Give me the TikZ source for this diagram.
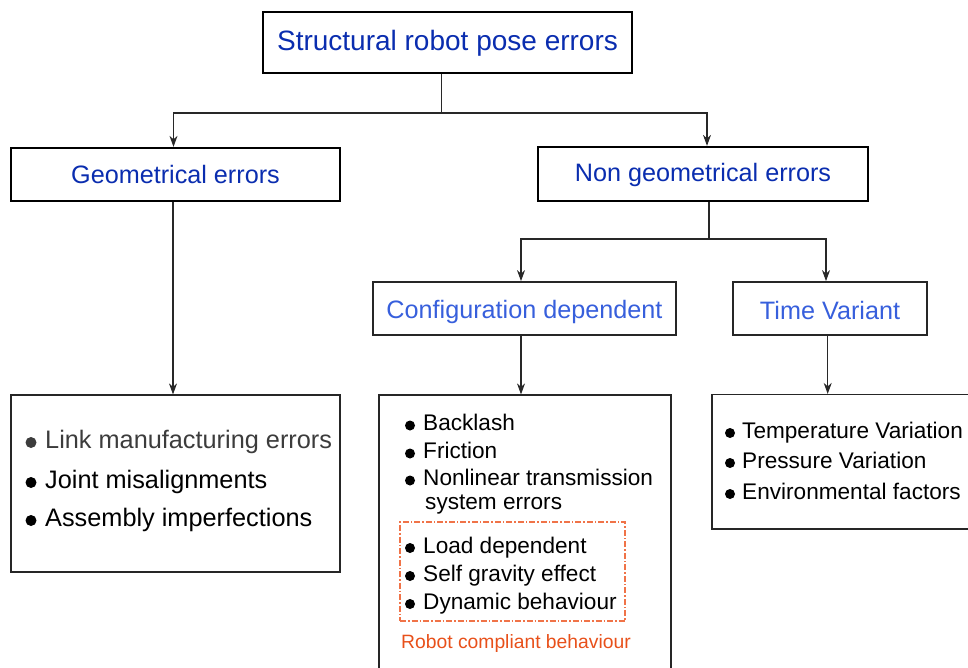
\documentclass[tikz,border=0pt]{standalone}
\usepackage{fontspec}
\setmainfont{Liberation Sans}
\usetikzlibrary{arrows.meta,calc}
\definecolor{tblue}{RGB}{10,45,175}
\definecolor{lblue}{RGB}{55,95,220}
\definecolor{oran}{RGB}{232,80,26}
\definecolor{dashor}{RGB}{240,115,72}
\definecolor{lnk}{RGB}{40,40,40}
\definecolor{greytxt}{RGB}{60,60,60}
\begin{document}
\begin{tikzpicture}[x=1pt,y=-1pt,
  hbox/.style={draw=black, line width=2.3pt, inner sep=0pt, text=tblue, text depth=0pt},
  mbox/.style={draw=black!85, line width=1.8pt, inner sep=0pt, text=lblue, text depth=0pt,
    font=\fontsize{25.2}{28}\selectfont},
  lbox/.style={draw=black!85, line width=1.2pt, inner sep=0pt},
  ln/.style={draw=lnk, line width=1.1pt},
  arr/.style={draw=lnk, line width=1.1pt, -{Stealth[length=11pt,width=8pt,inset=3.5pt]}},
  bul/.style={circle, fill=black, inner sep=0pt, minimum size=10pt},
  bigbul/.style={circle, fill=black, inner sep=0pt, minimum size=11pt},
  itm/.style={anchor=base west, inner sep=0pt}]
\useasboundingbox (0,0) rectangle (968,668);
\clip (0,0) rectangle (968,668);

% header boxes
\node[hbox, minimum width=369, minimum height=61, text height=17pt,
  font=\fontsize{28}{30}\selectfont] (top) at (447.5,42.5) {Structural robot pose errors};
\node[hbox, minimum width=329, minimum height=53, text height=19pt,
  font=\fontsize{25.2}{28}\selectfont] (geo) at (175.5,174.5) {Geometrical errors};
\node[hbox, minimum width=330, minimum height=54, text height=16pt,
  font=\fontsize{25.2}{28}\selectfont] (ng) at (703,174) {Non geometrical errors};
\node[mbox, minimum width=303, minimum height=53, text height=19pt] (cfg) at (524.5,308.5) {Configuration dependent};
\node[mbox, minimum width=194, minimum height=53, text height=21pt] (tv) at (830,308.5) {Time Variant};

% list boxes
\node[lbox, minimum width=329, minimum height=177] (gl) at (175.5,483.5) {};
\node[lbox, minimum width=292, minimum height=285] (cl) at (525,537.5) {};
\node[lbox, minimum width=278, minimum height=134.5] (tl) at (851,461.75) {};
\node[draw=dashor, line width=1.3pt, dash pattern=on 6pt off 2pt on 1.5pt off 2pt,
  minimum width=225, minimum height=99, inner sep=0pt] (rcb) at (512.5,571.5) {};

% connectors
\coordinate (j1) at (441.5,113);
\draw[ln] (top.south -| j1) -- (j1);
\draw[arr] (j1) -| ([xshift=-2]geo.north);
\draw[arr] (j1) -| ([xshift=4]ng.north);
\coordinate (j2) at (709,239);
\draw[ln] (ng.south -| j2) -- (j2);
\draw[arr] (j2) -| ([xshift=-3.5]cfg.north);
\draw[arr] (j2) -| ([xshift=-4]tv.north);
\draw[arr] ([xshift=-2.5]geo.south) -- ([xshift=-2.5]gl.north);
\draw[arr] ([xshift=-3.5]cfg.south) -- ([xshift=-3.5]cfg.south |- cl.north);
\draw[arr] ([xshift=-2.3]tv.south) -- ([xshift=-2.3]tv.south |- tl.north);

% left list
\begin{scope}[font=\fontsize{25.3}{28}\selectfont]
\node[bigbul, fill=greytxt] (lb1) at (31,442.5) {};
\node[itm, text=greytxt] (lt1) at (45,448) {Link manufacturing errors};
\node[bigbul] (lb2) at (31,482.5) {};
\node[itm] (lt2) at (45,488) {Joint misalignments};
\node[bigbul] (lb3) at (31,520.5) {};
\node[itm] (lt3) at (45,526) {Assembly imperfections};
\end{scope}

% middle list
\begin{scope}[font=\fontsize{22.6}{26}\selectfont]
\node[bul] (mb1) at (410,425.5) {};
\node[itm] (mt1) at (423,430.5) {Backlash};
\node[bul] (mb2) at (410,453.5) {};
\node[itm] (mt2) at (423,458.5) {Friction};
\node[bul] (mb3) at (410,480.5) {};
\node[itm] (mt3) at (423,485) {Nonlinear transmission};
\node[itm] (mt3b) at (425,509) {system errors};
\node[bul] (mb4) at (410,548) {};
\node[itm] (mt4) at (423,553) {Load dependent};
\node[bul] (mb5) at (410,576) {};
\node[itm] (mt5) at (423,581) {Self gravity effect};
\node[bul] (mb6) at (410,604) {};
\node[itm] (mt6) at (423,609) {Dynamic behaviour};
\end{scope}
\node[itm, text=oran, font=\fontsize{19.3}{22}\selectfont] (cap) at (401,648) {Robot compliant behaviour};

% right list
\begin{scope}[font=\fontsize{22.6}{26}\selectfont]
\node[bul] (rb1) at (730,433) {};
\node[itm] (rt1) at (742,438) {Temperature Variation};
\node[bul] (rb2) at (730,463) {};
\node[itm] (rt2) at (742,468) {Pressure Variation};
\node[bul] (rb3) at (730,494) {};
\node[itm] (rt3) at (742,499) {Environmental factors};
\end{scope}
\end{tikzpicture}
\end{document}
